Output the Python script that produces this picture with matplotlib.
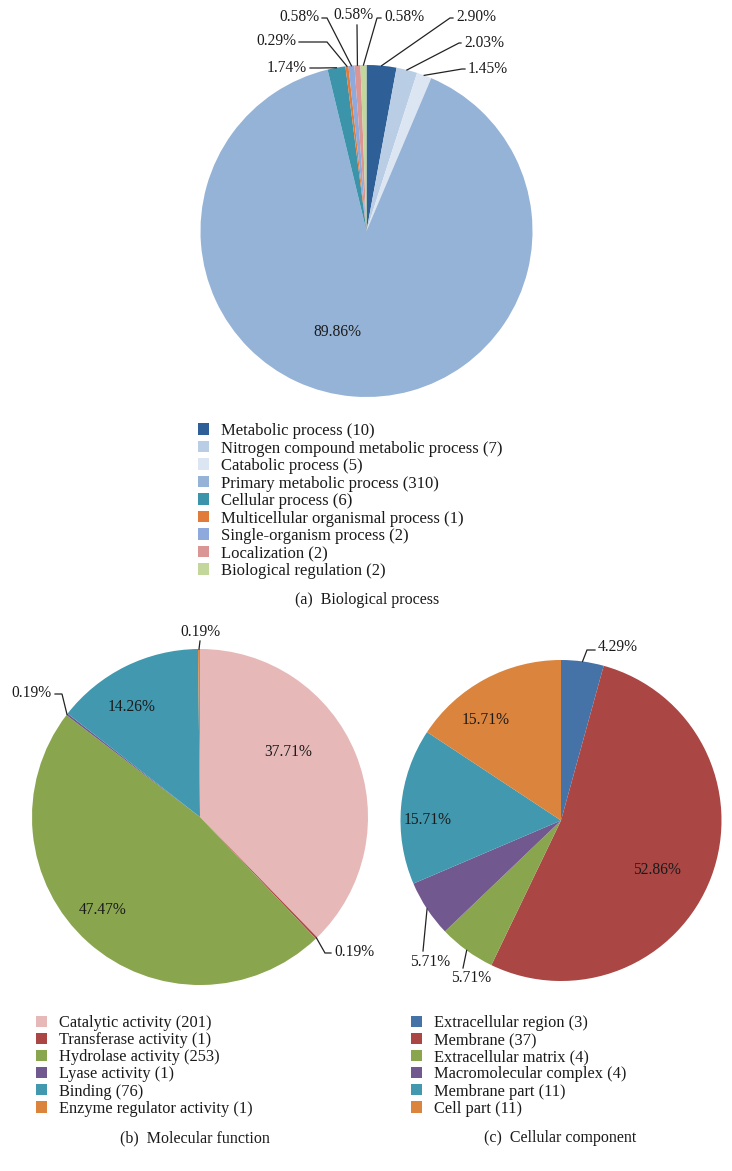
import numpy as np
import matplotlib
matplotlib.use('Agg')
import matplotlib.pyplot as plt

plt.rcParams['font.family'] = ['Liberation Serif', 'DejaVu Serif']
TXT = '#1a1a1a'

# (a) Biological process
bp_names = ['Metabolic process', 'Nitrogen compound metabolic process', 'Catabolic process',
            'Primary metabolic process', 'Cellular process', 'Multicellular organismal process',
            'Single-organism process', 'Localization', 'Biological regulation']
bp_counts = [10, 7, 5, 310, 6, 1, 2, 2, 2]
bp_colors = ['#2f5f97', '#b9cde5', '#dce6f2', '#95b3d7', '#3b94a9', '#e07b39',
             '#8ea9db', '#d99694', '#c3d69b']

# (b) Molecular function
mf_names = ['Catalytic activity', 'Transferase activity', 'Hydrolase activity',
            'Lyase activity', 'Binding', 'Enzyme regulator activity']
mf_counts = [201, 1, 253, 1, 76, 1]
mf_colors = ['#e6b9b8', '#aa4643', '#89a54e', '#71588f', '#4198af', '#db843d']

# (c) Cellular component
cc_names = ['Extracellular region', 'Membrane', 'Extracellular matrix',
            'Macromolecular complex', 'Membrane part', 'Cell part']
cc_counts = [3, 37, 4, 4, 11, 11]
cc_colors = ['#4572a7', '#aa4643', '#89a54e', '#71588f', '#4198af', '#db843d']

W, H = 732, 1171
fig = plt.figure(figsize=(W / 100, H / 100), dpi=100)


def pie_panel(cx, cy, r, counts, colors, label_spec):
    ax = fig.add_axes([(cx - r) / W, 1 - (cy + r) / H, 2 * r / W, 2 * r / H])
    wedges, _ = ax.pie(counts, colors=colors, startangle=90, counterclock=False,
                       radius=1, wedgeprops=dict(linewidth=0))
    ax.set_xlim(-1, 1)
    ax.set_ylim(-1, 1)
    ax.axis('off')
    total = sum(counts)
    to_data = lambda p: ((p[0] - cx) / r, (cy - p[1]) / r)
    for i, w in enumerate(wedges):
        txt = '%.2f%%' % (100.0 * counts[i] / total)
        pos, ha, elbow = label_spec[i]
        tx, ty = to_data(pos)
        ax.text(tx, ty, txt, ha=ha, va='center', fontsize=11.2, color=TXT, clip_on=False)
        if elbow is None:
            continue
        mid = np.deg2rad((w.theta1 + w.theta2) / 2)
        rim = (np.cos(mid), np.sin(mid))
        ex, ey = to_data(elbow)
        if ha == 'left':
            end = (tx - 3 / r, ey)
        elif ha == 'right':
            end = (tx + 3 / r, ey)
        else:
            end = (ex, ey)
        ax.plot([rim[0], ex, end[0]], [rim[1], ey, end[1]], color='#222222', lw=0.9,
                clip_on=False, solid_joinstyle='miter')
    return wedges


bp_spec = [((456, 17), 'left', (450, 18)),
           ((464, 43), 'left', (459, 43)),
           ((468, 69), 'left', (462, 69)),
           ((337, 332), 'center', None),
           ((307, 68), 'right', (320, 68)),
           ((296, 41), 'right', (327, 42)),
           ((319, 17), 'right', (327, 18)),
           ((353, 15), 'center', (357, 25)),
           ((384, 17), 'left', (377, 18))]
mf_spec = [((288, 752), 'center', None),
           ((334, 952), 'left', (325, 953)),
           ((103, 910), 'center', None),
           ((52, 693), 'right', (62, 694)),
           ((132, 707), 'center', None),
           ((200, 632), 'center', (200, 641))]
cc_spec = [((598, 647), 'left', (587, 650)),
           ((657, 870), 'center', None),
           ((471, 978), 'center', (463, 968)),
           ((430, 962), 'center', (423, 951)),
           ((428, 820), 'center', None),
           ((486, 720), 'center', None)]

bp_w = pie_panel(366.5, 231, 166, bp_counts, bp_colors, bp_spec)
mf_w = pie_panel(200, 817, 168, mf_counts, mf_colors, mf_spec)
cc_w = pie_panel(561, 820.5, 160.5, cc_counts, cc_colors, cc_spec)


def legend(handles, names, counts, x, y, size, spacing):
    labels = ['%s (%d)' % (n, c) for n, c in zip(names, counts)]
    fig.legend(handles, labels, loc='upper left', bbox_to_anchor=(x / W, 1 - y / H),
               frameon=False, borderpad=0, borderaxespad=0, handlelength=0.68,
               handleheight=0.68, handletextpad=0.72, labelspacing=spacing,
               prop=dict(size=size), labelcolor=TXT)


legend(bp_w, bp_names, bp_counts, 198, 423, 12, 0.09)
legend(mf_w, mf_names, mf_counts, 36, 1015, 11.8, 0.07)
legend(cc_w, cc_names, cc_counts, 411, 1015, 11.8, 0.07)

fig.text(367 / W, 1 - 600 / H, '(a)  Biological process', ha='center', va='center',
         fontsize=11.5, color=TXT)
fig.text(195 / W, 1 - 1138 / H, '(b)  Molecular function', ha='center', va='center',
         fontsize=11.5, color=TXT)
fig.text(560 / W, 1 - 1138 / H, '(c)  Cellular component', ha='center', va='center',
         fontsize=11.5, color=TXT)

fig.savefig('out.png', dpi=100, facecolor='white')
